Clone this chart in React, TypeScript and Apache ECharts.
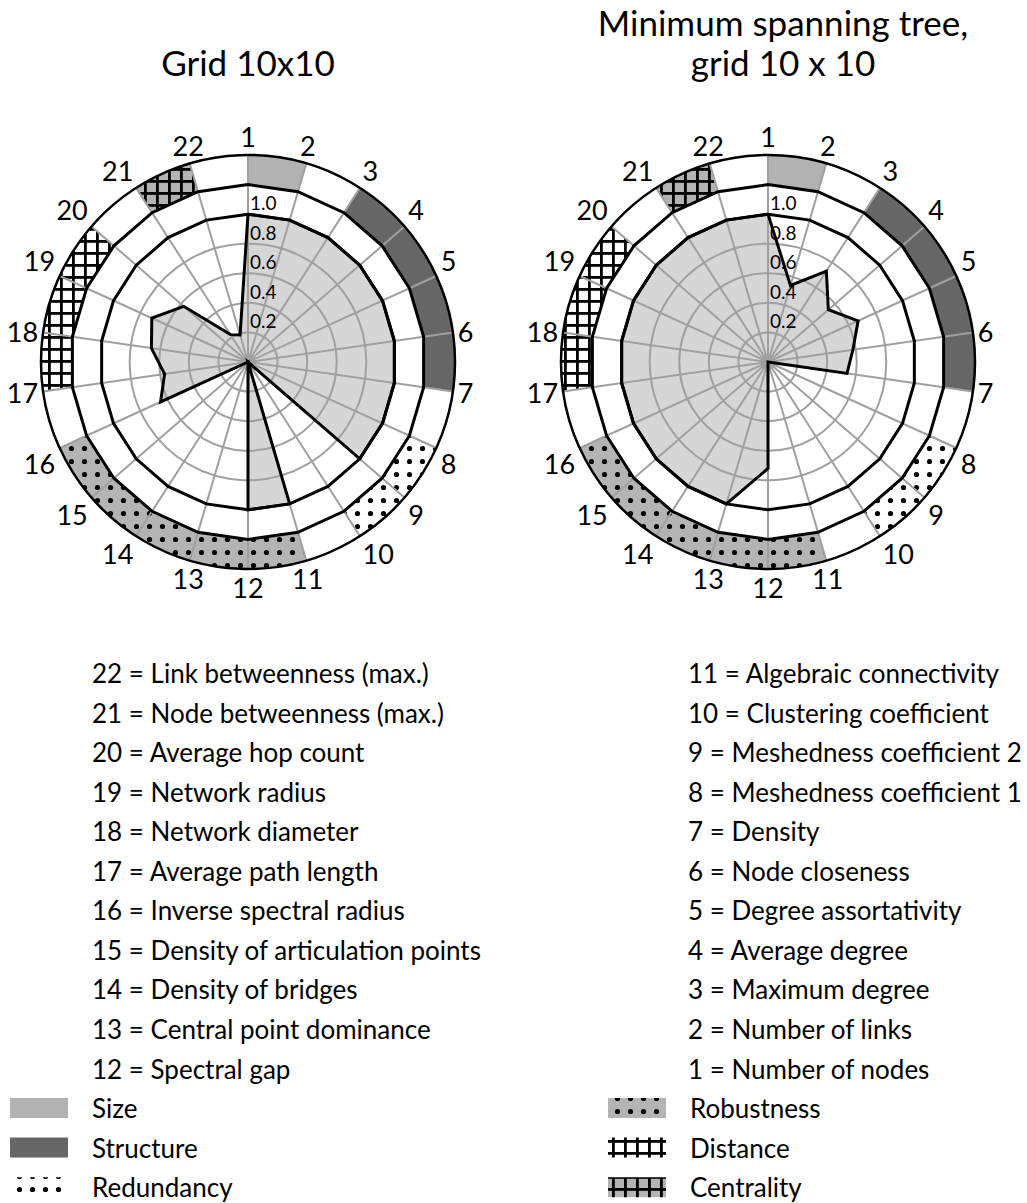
import React, { useEffect, useRef } from 'react';
import * as echarts from 'echarts';

const FONT = 'Lato, "Noto Sans", sans-serif';

const SPOKES = ['1','2','3','4','5','6','7','8','9','10','11','12','13','14','15','16','17','18','19','20','21','22'];

const METRICS = [
  'Number of nodes', 'Number of links', 'Maximum degree', 'Average degree',
  'Degree assortativity', 'Node closeness', 'Density', 'Meshedness coefficient 1',
  'Meshedness coefficient 2', 'Clustering coefficient', 'Algebraic connectivity',
  'Spectral gap', 'Central point dominance', 'Density of bridges',
  'Density of articulation points', 'Inverse spectral radius', 'Average path length',
  'Network diameter', 'Network radius', 'Average hop count',
  'Node betweenness (max.)', 'Link betweenness (max.)',
];

const GRID_VALUES = [1, 1, 1, 1, 1, 1, 1, 1, 1, 0, 1, 1, 0, 0, 0, 0.65, 0.57, 0.66, 0.715, 0.575, 0.22, 0.19];
const MST_VALUES = [1, 0.54, 0.73, 0.54, 0.67, 0.58, 0.54, 0, 0, 0, 0, 0.72, 1, 1, 1, 1, 1, 1, 1, 1, 1, 1];

const RADIAL_LABELS = [0.2, 0.4, 0.6, 0.8, 1.0];
const GRAY_RINGS = [0.2, 0.4, 0.6, 0.8];
const REF_RINGS = [1.0, 1.2];
const BAND_INNER = 1.2;
const BAND_OUTER = 1.4;

const GROUPS = [
  { name: 'Size', from: 1, to: 2, kind: 'size' },
  { name: 'Structure', from: 3, to: 7, kind: 'structure' },
  { name: 'Redundancy', from: 8, to: 10, kind: 'redundancy' },
  { name: 'Robustness', from: 11, to: 16, kind: 'robustness' },
  { name: 'Distance', from: 17, to: 20, kind: 'distance' },
  { name: 'Centrality', from: 21, to: 22, kind: 'centrality' },
];

const CHART_TITLES = [['Grid 10x10'], ['Minimum spanning tree,', 'grid 10 x 10']];

const FILL_GRAY = '#d6d6d6';
const GRID_GRAY = '#a0a0a0';
const SIZE_GRAY = '#b2b2b2';
const STRUCT_GRAY = '#666666';
const PAT_GRAY = '#b4b4b4';

function makePattern(kind: string, bg: string) {
  const s = kind === 'dots' ? 13 : 12;
  const cv = document.createElement('canvas');
  cv.width = s; cv.height = s;
  const ctx = cv.getContext('2d')!;
  ctx.fillStyle = bg;
  ctx.fillRect(0, 0, s, s);
  ctx.fillStyle = '#000';
  if (kind === 'dots') {
    ctx.beginPath();
    ctx.arc(s / 2, s / 2, 2.6, 0, Math.PI * 2);
    ctx.fill();
  } else {
    ctx.fillRect(0, 0, s, 2.8);
    ctx.fillRect(0, 0, 2.8, s);
  }
  return { image: cv.toDataURL(), imageWidth: s, imageHeight: s, repeat: 'repeat' };
}

export default function App() {
  const ref = useRef<HTMLDivElement>(null);
  useEffect(() => {
    if (!ref.current) return;
    const chart = echarts.init(ref.current, undefined, { renderer: 'svg' });

    const fills: Record<string, any> = {
      size: SIZE_GRAY,
      structure: STRUCT_GRAY,
      redundancy: makePattern('dots', '#ffffff'),
      robustness: makePattern('dots', PAT_GRAY),
      distance: makePattern('grid', '#ffffff'),
      centrality: makePattern('grid', PAT_GRAY),
    };

    const N = SPOKES.length;
    const closed = (vals: number[]) => vals.map((v, i) => [v, i]).concat([[vals[0], N]]);
    const centers = [[248, 362], [768, 362]];
    const datasets = [GRID_VALUES, MST_VALUES];

    const ringColors = [0, 0.2, 0.4, 0.6, 0.8, 1.0, 1.2, 1.4].map((v) =>
      GRAY_RINGS.some((g) => Math.abs(g - v) < 1e-6) ? GRID_GRAY : 'rgba(0,0,0,0)'
    );

    const polar: any[] = [];
    const angleAxis: any[] = [];
    const radiusAxis: any[] = [];
    const series: any[] = [];

    centers.forEach((c, pi) => {
      polar.push({ center: c, radius: 207 });
      angleAxis.push({
        polarIndex: pi, type: 'value', min: 0, max: N, interval: 1,
        startAngle: 90, clockwise: true, z: 3,
        axisLine: { show: true, lineStyle: { color: '#000', width: 2.5 } },
        axisTick: { show: false },
        axisLabel: {
          color: '#000', fontSize: 27, fontFamily: FONT, margin: 5,
          formatter: (v: number) => (Math.round(v) < N ? SPOKES[Math.round(v)] : ''),
        },
        splitLine: { show: true, lineStyle: { color: GRID_GRAY, width: 2 } },
      });
      radiusAxis.push({
        polarIndex: pi, type: 'value', min: 0, max: 1.4, interval: 0.2, z: 3,
        axisLine: { show: false }, axisTick: { show: false },
        axisLabel: {
          formatter: (v: number) => (RADIAL_LABELS.some((t) => Math.abs(t - v) < 1e-6) ? v.toFixed(1) : ''),
          margin: -2, align: 'left', verticalAlign: 'bottom', padding: [0, 0, 2, 0],
          fontSize: 19, color: '#000', fontFamily: FONT,
        },
        splitLine: { show: true, lineStyle: { color: ringColors, width: 2 } },
      });
      const vals = datasets[pi];
      series.push({
        type: 'line', coordinateSystem: 'polar', polarIndex: pi, data: closed(vals),
        showSymbol: false, silent: true, z: 1, clip: false,
        lineStyle: { opacity: 0 }, areaStyle: { color: FILL_GRAY, opacity: 1 },
      });
      series.push({
        type: 'custom', coordinateSystem: 'polar', polarIndex: pi, z: 2, silent: true,
        data: GROUPS.map((g) => [BAND_OUTER, g.from - 1]),
        renderItem: (params: any, api: any) => {
          const g = GROUPS[params.dataIndex];
          const c0 = api.coord([0, 0]);
          const a = g.from - 1;
          const b = g.to - 1;
          const angOf = (i: number) => {
            const p = api.coord([BAND_OUTER, i]);
            return Math.atan2(p[1] - c0[1], p[0] - c0[0]);
          };
          const pOut = api.coord([BAND_OUTER, 0]);
          const R = Math.hypot(pOut[0] - c0[0], pOut[1] - c0[1]);
          const a0 = angOf(a);
          let a1 = angOf(b);
          while (a1 < a0) a1 += Math.PI * 2;
          const pts: number[][] = [];
          for (let i = a; i <= b; i++) pts.push(api.coord([BAND_INNER, i]));
          const steps = 60;
          for (let k = 0; k <= steps; k++) {
            const t = a1 - ((a1 - a0) * k) / steps;
            pts.push([c0[0] + R * Math.cos(t), c0[1] + R * Math.sin(t)]);
          }
          return { type: 'polygon', shape: { points: pts }, style: { fill: fills[g.kind], stroke: null } };
        },
      });
      REF_RINGS.forEach((r) => {
        series.push({
          type: 'line', coordinateSystem: 'polar', polarIndex: pi, clip: false,
          data: closed(SPOKES.map(() => r)), showSymbol: false, silent: true, z: 5,
          lineStyle: { color: '#000', width: 3, join: 'miter' },
        });
      });
      series.push({
        type: 'line', coordinateSystem: 'polar', polarIndex: pi, data: closed(vals),
        showSymbol: false, silent: true, z: 6, clip: false,
        lineStyle: { color: '#000', width: 3, join: 'miter' },
      });
    });

    const graphic: any[] = [];
    const titleX = [248, 783];
    CHART_TITLES.forEach((lines, ti) => {
      lines.forEach((t, li) => {
        const y = lines.length === 1 ? 62 : 22 + li * 40;
        graphic.push({
          type: 'text', x: titleX[ti], y,
          style: { text: t, fill: '#000', font: `35px ${FONT}`, align: 'center', verticalAlign: 'middle' },
        });
      });
    });

    const KEY_FONT = `26px ${FONT}`;
    const rowY = (k: number) => 673 + k * 39.55;
    for (let k = 0; k < 11; k++) {
      const nL = 22 - k;
      const nR = 11 - k;
      graphic.push({
        type: 'text', x: 92, y: rowY(k),
        style: { text: `${nL} = ${METRICS[nL - 1]}`, fill: '#000', font: KEY_FONT, verticalAlign: 'middle' },
      });
      graphic.push({
        type: 'text', x: 688, y: rowY(k),
        style: { text: `${nR} = ${METRICS[nR - 1]}`, fill: '#000', font: KEY_FONT, verticalAlign: 'middle' },
      });
    }
    const legendPos = [
      [10, 92, 11], [10, 92, 12], [10, 92, 13],
      [608, 690, 11], [608, 690, 12], [608, 690, 13],
    ];
    GROUPS.forEach((g, gi) => {
      const [sx, tx, row] = legendPos[gi];
      const y = rowY(row);
      graphic.push({
        type: 'rect', shape: { x: sx, y: y - 10, width: 58, height: 20 },
        style: { fill: fills[g.kind] },
      });
      graphic.push({
        type: 'text', x: tx, y,
        style: { text: g.name, fill: '#000', font: KEY_FONT, verticalAlign: 'middle' },
      });
    });

    chart.setOption({
      animation: false,
      backgroundColor: '#fff',
      polar, angleAxis, radiusAxis, series, graphic,
    });
    return () => chart.dispose();
  }, []);
  return (
    <div
      ref={ref}
      style={{
        position: 'absolute', left: 0, top: 0, width: 1027, height: 1203,
        fontFeatureSettings: '"liga" 0, "clig" 0, "dlig" 0',
        fontVariantLigatures: 'none',
      }}
    />
  );
}
